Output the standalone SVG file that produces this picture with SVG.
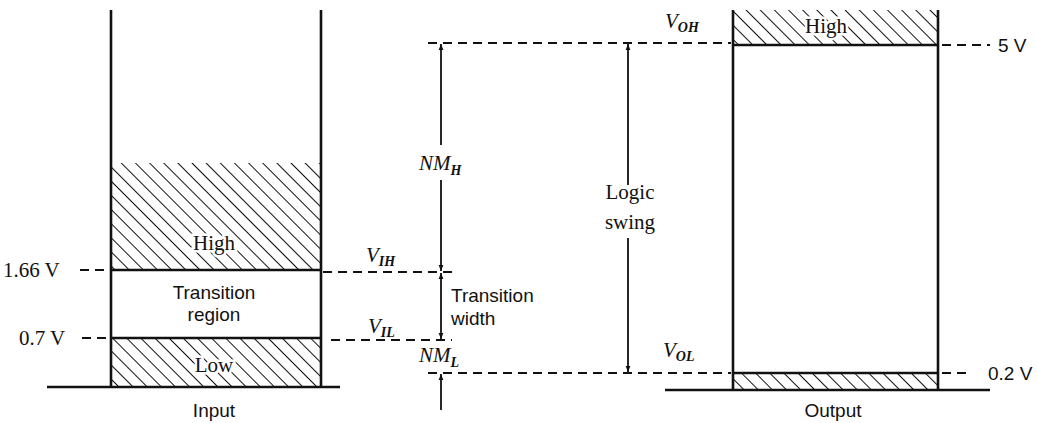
<svg xmlns="http://www.w3.org/2000/svg" width="1038" height="423" viewBox="0 0 1038 423">
<defs>
<pattern id="hatch" patternUnits="userSpaceOnUse" width="10" height="10" patternTransform="rotate(-45)">
<line x1="0" y1="0" x2="0" y2="10" stroke="#111" stroke-width="2"/>
</pattern>
<marker id="ah" viewBox="0 0 10 10" refX="10" refY="5" markerWidth="6" markerHeight="6" orient="auto-start-reverse" markerUnits="userSpaceOnUse">
<path d="M0,1 L10,5 L0,9 z" fill="#111"/>
</marker>
</defs>
<style>
.ln{stroke:#111;stroke-width:2.6;fill:none}
.da{stroke:#111;stroke-width:1.8;stroke-dasharray:9 6;fill:none}
.ar{stroke:#111;stroke-width:1.8;fill:none}
.t{font-family:"Liberation Serif",serif;font-size:21px;fill:#111}
.s{font-family:"Liberation Sans",sans-serif;font-size:19px;fill:#111}
.i{font-family:"Liberation Serif",serif;font-style:italic;font-size:21px;fill:#111}
.sub{font-size:14px;font-weight:bold}
.w{stroke:#fff;stroke-width:5;paint-order:stroke}
</style>
<rect width="1038" height="423" fill="#fff"/>

<g id="input-column">
<rect x="111" y="163" width="210" height="107" fill="url(#hatch)"/>
<rect x="111" y="338" width="210" height="49" fill="url(#hatch)"/>
<line class="ln" x1="111" y1="10" x2="111" y2="387"/>
<line class="ln" x1="321" y1="10" x2="321" y2="387"/>
<line class="ln" x1="47" y1="387" x2="340" y2="387"/>
<line class="ln" x1="111" y1="270" x2="321" y2="270"/>
<line class="ln" x1="111" y1="338" x2="321" y2="338"/>
<text class="t w" x="214" y="250" text-anchor="middle">High</text>
<text class="s" x="214" y="299" text-anchor="middle">Transition</text>
<text class="s" x="214" y="321" text-anchor="middle">region</text>
<text class="t w" x="214" y="372" text-anchor="middle">Low</text>
<text class="s" x="214" y="417" text-anchor="middle">Input</text>
<text class="t" x="3" y="277">1.66 V</text>
<text class="t" x="19" y="345">0.7 V</text>
<line class="da" x1="80" y1="270" x2="109" y2="270"/>
<line class="da" x1="82" y1="338" x2="109" y2="338"/>
</g>

<g id="output-column">
<rect x="733" y="10" width="205" height="35" fill="url(#hatch)"/>
<rect x="733" y="373" width="205" height="17" fill="url(#hatch)"/>
<line class="ln" x1="733" y1="10" x2="733" y2="390"/>
<line class="ln" x1="938" y1="10" x2="938" y2="390"/>
<line class="ln" x1="733" y1="45" x2="938" y2="45"/>
<line class="ln" x1="733" y1="373" x2="938" y2="373"/>
<line class="ln" x1="665" y1="390" x2="990" y2="390"/>
<text class="t w" x="826" y="33" text-anchor="middle">High</text>
<text class="s" x="833" y="417" text-anchor="middle">Output</text>
<line class="da" x1="942" y1="45" x2="990" y2="45"/>
<text class="s" x="998" y="52">5 V</text>
<line class="da" x1="942" y1="373" x2="966" y2="373"/>
<text class="s" x="988" y="380">0.2 V</text>
</g>

<g id="levels">
<line class="da" x1="323" y1="272" x2="452" y2="272"/>
<line class="da" x1="331" y1="340" x2="452" y2="340"/>
<line class="da" x1="428" y1="43" x2="731" y2="43"/>
<line class="da" x1="428" y1="373" x2="731" y2="373"/>
<text class="i" x="366" y="262">V<tspan class="sub" dy="4">IH</tspan></text>
<text class="i" x="368" y="333">V<tspan class="sub" dy="4">IL</tspan></text>
<text class="i" x="665" y="28">V<tspan class="sub" dy="4">OH</tspan></text>
<text class="i" x="663" y="357">V<tspan class="sub" dy="4">OL</tspan></text>
</g>

<g id="connectors">
<line class="ar" x1="441" y1="145" x2="441" y2="44" marker-end="url(#ah)"/>
<line class="ar" x1="441" y1="180" x2="441" y2="271" marker-end="url(#ah)"/>
<line class="ar" x1="441" y1="306" x2="441" y2="273" marker-end="url(#ah)"/>
<line class="ar" x1="441" y1="306" x2="441" y2="339" marker-end="url(#ah)"/>
<line class="ar" x1="441" y1="410" x2="441" y2="374" marker-end="url(#ah)"/>
<line class="ar" x1="628" y1="185" x2="628" y2="44" marker-end="url(#ah)"/>
<line class="ar" x1="628" y1="238" x2="628" y2="372" marker-end="url(#ah)"/>
</g>

<g id="labels">
<text class="i" x="419" y="170">NM<tspan class="sub" dy="5">H</tspan></text>
<text class="i" x="419" y="362">NM<tspan class="sub" dy="5">L</tspan></text>
<text class="s" x="451" y="302">Transition</text>
<text class="s" x="451" y="325">width</text>
<text class="t" x="630" y="199" text-anchor="middle">Logic</text>
<text class="t" x="630" y="229" text-anchor="middle">swing</text>
</g>
</svg>
